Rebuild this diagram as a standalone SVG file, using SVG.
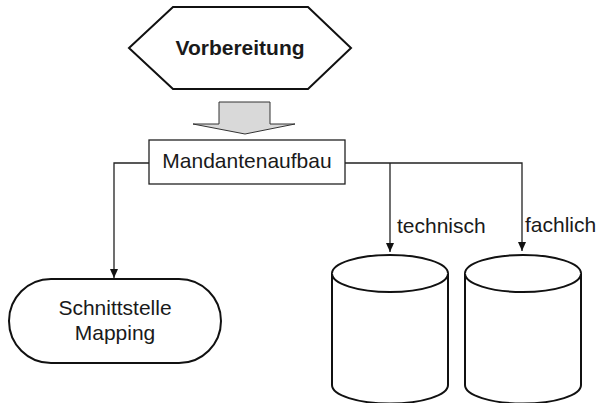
<svg xmlns="http://www.w3.org/2000/svg" width="605" height="403" viewBox="0 0 605 403">
<style>
text{font-family:"Liberation Sans",Arial,sans-serif;font-size:21px;fill:#1a1a1a}
.b{font-weight:bold}
.shape{fill:#fff;stroke:#111;stroke-width:2}
.thin{fill:#fff;stroke:#222;stroke-width:1.3}
.con{fill:none;stroke:#222;stroke-width:1.3}
</style>
<defs>
<marker id="ah" markerWidth="10" markerHeight="10" refX="9" refY="5" orient="auto" markerUnits="userSpaceOnUse">
<path d="M0,1 L9,5 L0,9 Z" fill="#111"/>
</marker>
</defs>
<g id="vorbereitung">
<polygon class="shape" points="129,48 173,7 308,7 351,48 308,89 173,89"/>
<text class="b" x="240" y="55" text-anchor="middle">Vorbereitung</text>
</g>
<g id="blockarrow">
<polygon points="219,102 270,102 270,124 295,124 245,134 193,124 219,124" fill="#d9d9d9" stroke="#333" stroke-width="1"/>
</g>
<g id="mandantenaufbau">
<rect class="thin" x="149" y="140" width="196" height="44"/>
<text x="247" y="168" text-anchor="middle">Mandantenaufbau</text>
</g>
<g id="connectors">
<path class="con" d="M149,163 H114 V278" marker-end="url(#ah)"/>
<path class="con" d="M345,163 H522 V251" marker-end="url(#ah)"/>
<path class="con" d="M390,163 V252" marker-end="url(#ah)"/>
<text x="397" y="233">technisch</text>
<text x="525" y="232">fachlich</text>
</g>
<g id="schnittstelle">
<rect class="shape" x="9" y="279" width="212" height="84" rx="42" ry="42"/>
<text x="115" y="315" text-anchor="middle">Schnittstelle</text>
<text x="115" y="340" text-anchor="middle">Mapping</text>
</g>
<g id="db-technisch">
<path class="shape" d="M332,273.5 V385 A58,18.5 0 0 0 448,385 V273.5 A58,18.5 0 0 0 332,273.5 Z"/>
<path class="shape" fill="none" d="M332,273.5 A58,18.5 0 0 0 448,273.5"/>
</g>
<g id="db-fachlich">
<path class="shape" d="M465,273.5 V385 A58,18.5 0 0 0 581,385 V273.5 A58,18.5 0 0 0 465,273.5 Z"/>
<path class="shape" fill="none" d="M465,273.5 A58,18.5 0 0 0 581,273.5"/>
</g>
</svg>
